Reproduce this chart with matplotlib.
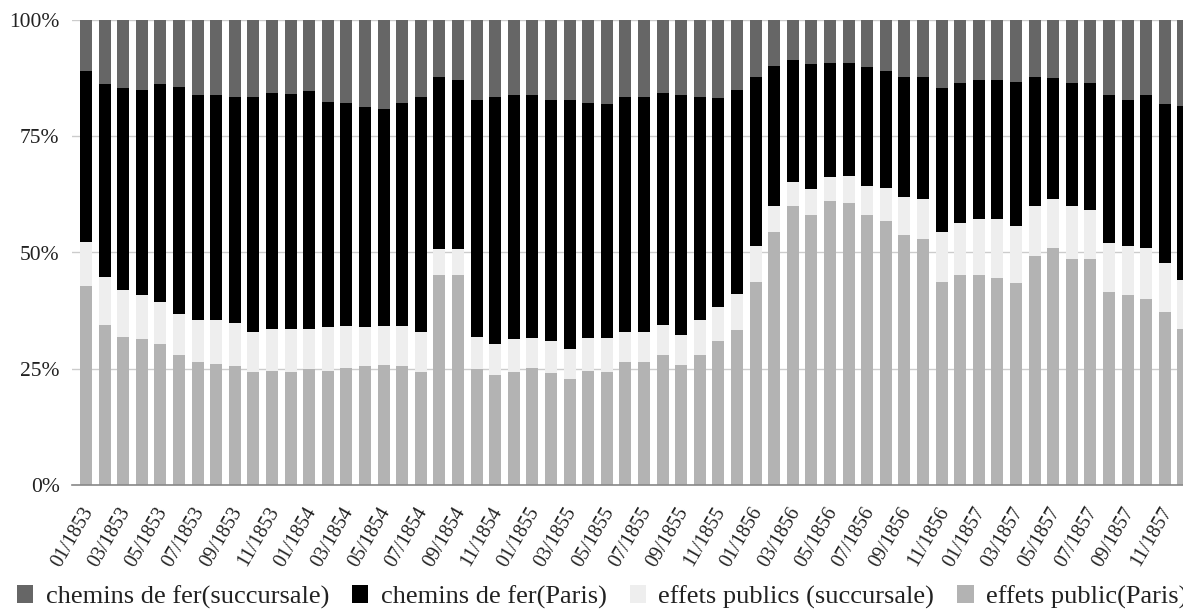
import matplotlib
matplotlib.use("Agg")
import matplotlib.pyplot as plt
import matplotlib.transforms as mtransforms
from matplotlib.patches import Patch
import numpy as np

months = [f"{m:02d}/{y}" for y in range(1853, 1858) for m in range(1, 13)]

# shares in percent, per month (01/1853 .. 12/1857)
effets_paris = [42.8, 34.4, 31.8, 31.3, 30.4, 28.0, 26.4, 26.0, 25.5, 24.3,
                24.6, 24.3, 24.9, 24.6, 25.1, 25.5, 25.7, 25.5, 24.3, 45.1,
                45.1, 24.9, 23.7, 24.3, 25.1, 24.0, 22.9, 24.6, 24.3, 26.4,
                26.4, 28.0, 25.7, 28.0, 31.0, 33.3, 43.7, 54.4, 59.9, 58.1,
                61.0, 60.7, 58.1, 56.7, 53.8, 53.0, 43.7, 45.1, 45.1, 44.5,
                43.4, 49.2, 50.9, 48.6, 48.6, 41.6, 40.8, 39.9, 37.1, 33.6]
effets_succ = [9.5, 10.4, 10.1, 9.5, 9.0, 8.8, 9.0, 9.4, 9.3, 8.7,
               9.0, 9.3, 8.7, 9.3, 9.1, 8.4, 8.5, 8.7, 8.5, 5.6,
               5.6, 6.9, 6.7, 7.0, 6.5, 7.0, 6.3, 7.0, 7.3, 6.6,
               6.6, 6.5, 6.5, 7.4, 7.2, 7.8, 7.6, 5.7, 5.2, 5.6,
               5.2, 5.8, 6.1, 7.2, 8.1, 8.4, 10.7, 11.3, 12.0, 12.6,
               12.4, 10.7, 10.7, 11.3, 10.5, 10.5, 10.5, 11.0, 10.6, 10.4]
chemins_paris = [36.7, 41.4, 43.4, 44.1, 46.8, 48.8, 48.5, 48.5, 48.7, 50.5,
                 50.8, 50.5, 51.1, 48.5, 47.9, 47.4, 46.7, 47.9, 50.7, 37.1,
                 36.5, 50.9, 53.1, 52.6, 52.3, 51.9, 53.5, 50.5, 50.3, 50.5,
                 50.5, 49.9, 51.7, 48.1, 45.1, 43.8, 36.5, 30.1, 26.2, 26.8,
                 24.5, 24.2, 25.7, 25.2, 25.9, 26.4, 30.9, 30.0, 30.1, 29.9,
                 30.9, 27.9, 26.0, 26.5, 27.3, 31.8, 31.6, 33.0, 34.2, 37.5]
chemins_succ = [11.0, 13.8, 14.7, 15.1, 13.8, 14.4, 16.1, 16.1, 16.5, 16.5,
                15.6, 15.9, 15.3, 17.6, 17.9, 18.7, 19.1, 17.9, 16.5, 12.2,
                12.8, 17.3, 16.5, 16.1, 16.1, 17.1, 17.3, 17.9, 18.1, 16.5,
                16.5, 15.6, 16.1, 16.5, 16.7, 15.1, 12.2, 9.8, 8.7, 9.5,
                9.3, 9.3, 10.1, 10.9, 12.2, 12.2, 14.7, 13.6, 12.8, 13.0,
                13.3, 12.2, 12.4, 13.6, 13.6, 16.1, 17.1, 16.1, 18.1, 18.5]

labels = ["chemins de fer(succursale)", "chemins de fer(Paris)",
          "effets publics (succursale)", "effets public(Paris)"]
colors = ["#666666", "#000000", "#eeeeee", "#b3b3b3"]

plt.rcParams['font.family'] = ['Liberation Serif', 'DejaVu Serif']

W, H = 1183, 609
fig = plt.figure(figsize=(W / 100, H / 100), dpi=100)
ax = fig.add_axes([72 / W, (H - 485) / H, (W - 72) / W, 465 / H])

x = np.arange(len(months))
ep = np.array(effets_paris)
es = np.array(effets_succ)
cp = np.array(chemins_paris)
cs = np.array(chemins_succ)
tot = ep + es + cp + cs
ep, es, cp, cs = [100 * a / tot for a in (ep, es, cp, cs)]

bw = 0.65
ax.bar(x, ep, bw, color=colors[3], zorder=3)
ax.bar(x, es, bw, bottom=ep, color=colors[2], zorder=3)
ax.bar(x, cp, bw, bottom=ep + es, color=colors[1], zorder=3)
ax.bar(x, cs, bw, bottom=ep + es + cp, color=colors[0], zorder=3)

ax.set_ylim(0, 100)
ax.set_xlim(-0.753, (W - 86) / 18.6)
ax.set_yticks([0, 25, 50, 75, 100])
ax.set_yticklabels(["0%", "25%", "50%", "75%", "100%"], fontsize=15.5, color="#222222")
ax.yaxis.grid(True, color="#cccccc", lw=1, zorder=0)
ax.set_axisbelow(True)
for s in ["top", "right", "left"]:
    ax.spines[s].set_visible(False)
ax.spines["bottom"].set_color("#888888")
ax.spines["bottom"].set_linewidth(1.2)
ax.spines["bottom"].set_zorder(4)
ax.tick_params(axis="both", length=0)
ax.tick_params(axis="y", pad=9)

ax.set_xticks(x[::2])
ax.set_xticklabels(months[::2], rotation=60, ha="right", va="center",
                   rotation_mode="anchor", fontsize=14.5, color="#222222")
ax.tick_params(axis="x", pad=14)
offset = mtransforms.ScaledTranslation(0.03, -0.04, fig.dpi_scale_trans)
for lbl in ax.get_xticklabels():
    lbl.set_transform(lbl.get_transform() + offset)

handles = [Patch(facecolor=c, edgecolor="none") for c in colors]
fig.legend(handles, labels, loc="center left", bbox_to_anchor=(17 / W, (H - 597) / H),
           ncol=4, frameon=False, fontsize=19, handlelength=0.62, handleheight=0.62,
           handletextpad=0.46, columnspacing=0.88, borderpad=0, borderaxespad=0,
           labelcolor="#222222")

fig.savefig("out.png", dpi=100)
